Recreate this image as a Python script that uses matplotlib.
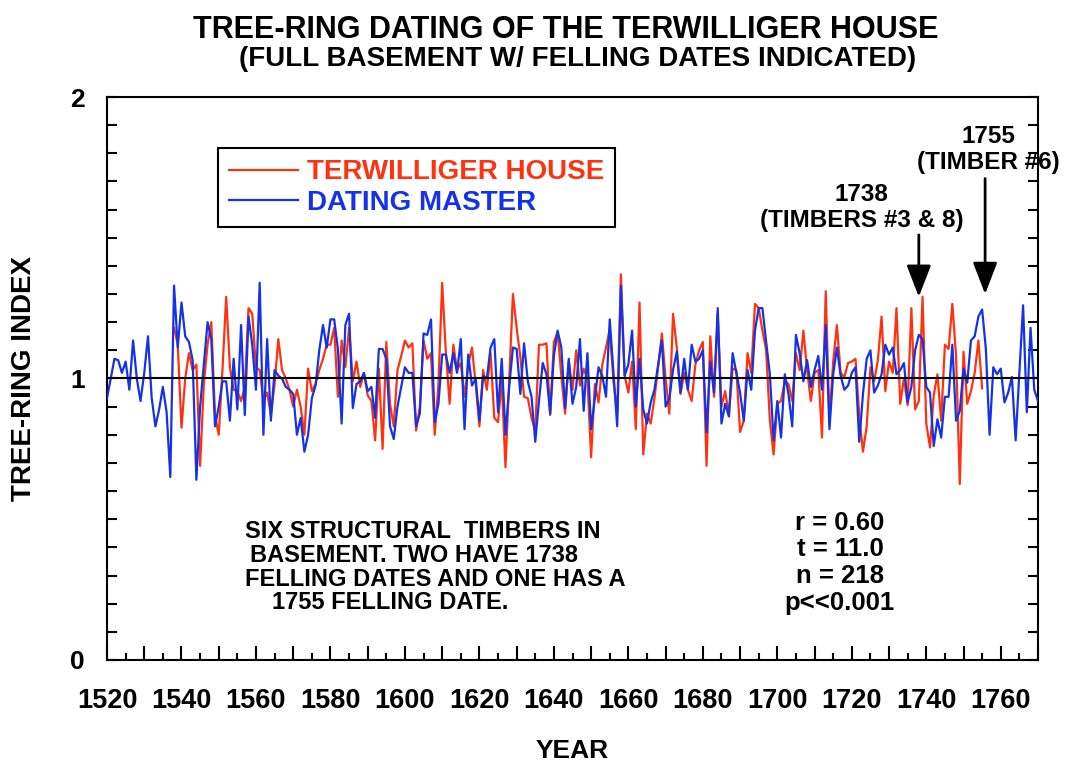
import numpy as np
import matplotlib.pyplot as plt
from matplotlib.ticker import MultipleLocator, FuncFormatter

plt.rcParams['font.family'] = ['Liberation Sans', 'DejaVu Sans']
plt.rcParams['font.weight'] = 'bold'

# dating master chronology, 1520-1770
master_start = 1520
master = [
    0.93, 1.00, 1.07, 1.065, 1.02, 1.06, 0.96, 1.135, 1.00, 0.92,
    1.02, 1.15, 0.93, 0.83, 0.89, 0.97, 0.88, 0.65, 1.33, 1.11,
    1.27, 1.15, 1.13, 1.065, 0.64, 0.90, 1.05, 1.20, 1.14, 0.83,
    0.90, 0.99, 0.99, 0.85, 1.07, 0.89, 1.19, 0.87, 1.22, 1.12,
    0.96, 1.34, 0.80, 1.14, 0.85, 1.03, 1.01, 1.00, 0.97, 0.96,
    0.945, 0.80, 0.86, 0.74, 0.80, 0.93, 0.975, 1.10, 1.19, 1.11,
    1.21, 1.21, 1.105, 0.84, 1.19, 1.23, 0.895, 0.98, 0.99, 1.02,
    0.955, 0.97, 0.86, 1.105, 1.105, 1.07, 0.83, 0.785, 0.90, 0.97,
    1.04, 1.02, 1.02, 0.83, 0.875, 1.16, 1.155, 1.21, 0.845, 0.91,
    1.085, 1.085, 1.02, 1.09, 1.02, 1.14, 0.82, 1.085, 0.975, 1.00,
    0.85, 1.01, 1.00, 1.11, 1.14, 0.88, 1.07, 0.80, 0.97, 1.11,
    1.105, 0.945, 1.125, 0.99, 0.935, 0.775, 0.92, 1.055, 1.015, 0.875,
    1.08, 1.17, 1.11, 0.895, 1.07, 0.91, 0.97, 1.14, 0.885, 1.09,
    0.82, 0.93, 1.04, 1.01, 0.935, 1.21, 1.02, 0.83, 1.33, 1.01,
    1.05, 1.17, 0.90, 1.07, 0.89, 0.84, 0.915, 0.96, 1.05, 1.135,
    0.90, 0.93, 1.03, 1.095, 0.95, 1.07, 0.96, 1.12, 1.06, 1.07,
    1.10, 0.81, 1.06, 0.95, 1.25, 0.84, 0.91, 0.865, 1.09, 1.02,
    0.95, 0.85, 1.03, 0.96, 1.17, 1.25, 1.25, 1.13, 1.015, 0.78,
    0.92, 0.79, 1.015, 0.945, 0.83, 1.155, 1.09, 0.99, 1.065, 0.97,
    1.03, 1.08, 0.96, 1.19, 0.82, 1.015, 1.11, 1.01, 0.96, 0.975,
    1.02, 1.04, 0.775, 0.945, 1.07, 1.10, 0.95, 0.975, 1.015, 1.12,
    1.085, 1.11, 1.015, 1.03, 1.055, 0.915, 0.97, 1.10, 1.155, 1.14,
    0.97, 0.95, 0.76, 0.855, 0.79, 0.935, 0.935, 1.12, 0.85, 0.885,
    1.035, 0.985, 1.135, 1.15, 1.22, 1.245, 1.105, 0.80, 1.04, 1.015,
    1.035, 0.915, 0.95, 1.005, 0.78, 1.02, 1.26, 0.88, 1.18, 0.96,
    0.92,
]

# terwilliger house timbers, 1538-1755 (n = 218)
house_start = 1538
house = [
    1.18, 1.12,
    0.825, 1.00, 1.09, 1.03, 1.05, 0.69, 0.98, 1.12, 1.20, 0.87,
    0.80, 1.03, 1.29, 1.04, 0.96, 0.955, 0.92, 0.97, 1.25, 1.23,
    1.04, 1.03, 0.92, 0.95, 0.87, 0.98, 1.14, 1.03, 1.00, 0.96,
    0.90, 0.96, 0.90, 0.80, 1.035, 0.955, 0.98, 1.03, 1.07, 1.12,
    1.12, 1.18, 0.935, 1.135, 1.04, 1.18, 0.99, 1.06, 0.97, 1.02,
    0.94, 0.92, 0.78, 1.035, 0.75, 1.13, 0.91, 0.83, 1.03, 1.08,
    1.135, 1.11, 1.125, 0.815, 0.90, 1.135, 1.07, 1.09, 0.80, 0.98,
    1.34, 1.09, 0.91, 1.12, 1.03, 1.055, 0.935, 1.05, 1.11, 0.98,
    0.83, 1.03, 0.96, 1.09, 0.86, 0.845, 0.99, 0.685, 0.99, 1.30,
    1.18, 1.075, 0.935, 0.93, 0.86, 0.815, 1.12, 1.12, 1.125, 0.87,
    1.13, 1.165, 1.01, 0.875, 1.06, 0.96, 1.10, 0.975, 1.035, 1.00,
    0.72, 0.98, 0.915, 1.05, 1.11, 1.175, 0.99, 0.88, 1.37, 1.01,
    0.95, 1.06, 0.82, 1.27, 0.73, 0.875, 0.84, 0.93, 1.04, 1.16,
    1.00, 0.875, 1.23, 1.11, 0.945, 1.02, 0.96, 0.92, 1.05, 1.10,
    1.13, 0.69, 1.15, 0.935, 1.23, 0.90, 0.955, 0.87, 1.035, 1.03,
    0.81, 0.85, 1.09, 1.02, 1.265, 1.25, 1.17, 1.10, 0.85, 0.73,
    0.91, 0.92, 0.99, 0.98, 0.92, 1.09, 1.03, 1.17, 1.03, 0.92,
    1.02, 1.03, 0.79, 1.31, 0.85, 1.06, 1.19, 1.02, 1.005, 1.055,
    1.06, 1.07, 0.87, 0.74, 0.83, 1.04, 0.99, 1.065, 1.22, 0.955,
    1.06, 1.02, 1.25, 0.91, 1.00, 0.905, 1.25, 0.89, 0.92, 1.29,
    0.84, 0.755, 0.94, 1.015, 0.85, 1.12, 1.105, 1.265, 1.08, 0.625,
    1.095, 0.91, 0.955, 1.02, 1.135, 0.965,
]

felling_years = [1738, 1755]
felling_labels = ['1738\n(TIMBERS #3 & 8)', '1755\n(TIMBER #6)']

stats_text = 'r = 0.60\nt = 11.0\nn = 218\np<<0.001'
note_lines = ['SIX STRUCTURAL  TIMBERS IN', 'BASEMENT. TWO HAVE 1738',
              'FELLING DATES AND ONE HAS A', '1755 FELLING DATE.']

red = '#ff3210'
blue = '#1432e6'

master_years = np.arange(master_start, master_start + len(master))
house_years = np.arange(house_start, house_start + len(house))

fig = plt.figure(figsize=(10.68, 7.62), dpi=100)
ax = fig.add_axes([0.1002, 0.1339, 0.8717, 0.7388])

ax.plot(house_years, house, color=red, lw=1.6, label='TERWILLIGER HOUSE', zorder=2)
ax.plot(master_years, master, color=blue, lw=1.6, label='DATING MASTER', zorder=3)
ax.axhline(1.0, color='black', lw=1.5, zorder=4)

ax.set_xlim(1520, 1770)
ax.set_ylim(0, 2)

ax.xaxis.set_major_locator(MultipleLocator(10))
ax.xaxis.set_minor_locator(MultipleLocator(5))
ax.xaxis.set_major_formatter(FuncFormatter(lambda v, p: '%d' % v if int(round(v)) % 20 == 0 else ''))
ax.yaxis.set_major_locator(MultipleLocator(1))
ax.yaxis.set_minor_locator(MultipleLocator(0.1))
ax.yaxis.set_major_formatter(FuncFormatter(lambda v, p: '%d' % v))

ax.tick_params(axis='x', which='major', direction='in', length=10, width=1.5,
               labelsize=19.5, pad=20, top=False)
ax.tick_params(axis='x', which='minor', direction='in', length=5, width=1.5, top=False)
ax.tick_params(axis='y', which='both', direction='in', length=7, width=1.5,
               labelsize=19, pad=16, right=True)
for s in ax.spines.values():
    s.set_linewidth(1.5)

ax.set_xlabel('YEAR', fontsize=19, fontweight='bold', labelpad=18)
ax.set_ylabel('TREE-RING INDEX', fontsize=20, fontweight='bold', labelpad=24)

leg = ax.legend(loc='upper left', bbox_to_anchor=(0.119, 0.909), borderaxespad=0,
                fontsize=20, handlelength=2.5, handletextpad=0.3, labelspacing=0.15,
                borderpad=0.4, fancybox=False, framealpha=1, edgecolor='black',
                labelcolor='linecolor')
leg.get_frame().set_linewidth(1.5)

# felling date arrows
ax.annotate('', xy=(felling_years[0], 1.28), xytext=(felling_years[0], 1.52),
            arrowprops=dict(arrowstyle='-|>,head_length=0.65,head_width=0.25',
                            mutation_scale=30, color='black', lw=2))
ax.annotate('', xy=(felling_years[1] + 0.8, 1.29), xytext=(felling_years[1] + 0.8, 1.72),
            arrowprops=dict(arrowstyle='-|>,head_length=0.65,head_width=0.25',
                            mutation_scale=30, color='black', lw=2))
ax.text(1722.7, 1.607, felling_labels[0], ha='center', va='center', fontsize=17.5,
        fontweight='bold', linespacing=1.15)
ax.text(1756.7, 1.814, felling_labels[1], ha='center', va='center', fontsize=17.5,
        fontweight='bold', linespacing=1.15)

note_x = [1557, 1558.3, 1557, 1564.3]
note_y = [0.455, 0.37, 0.285, 0.203]
for tx, ty, line in zip(note_x, note_y, note_lines):
    ax.text(tx, ty, line, ha='left', va='center', fontsize=17, fontweight='bold')
ax.text(1716.8, 0.345, stats_text, ha='center', va='center', fontsize=18.5,
        fontweight='bold', linespacing=1.15)

fig.text(0.530, 0.961, 'TREE-RING DATING OF THE TERWILLIGER HOUSE', ha='center',
         va='center', fontsize=22, fontweight='bold')
fig.text(0.541, 0.923, '(FULL BASEMENT W/ FELLING DATES INDICATED)', ha='center',
         va='center', fontsize=20, fontweight='bold')

fig.savefig('out.png', dpi=100)
